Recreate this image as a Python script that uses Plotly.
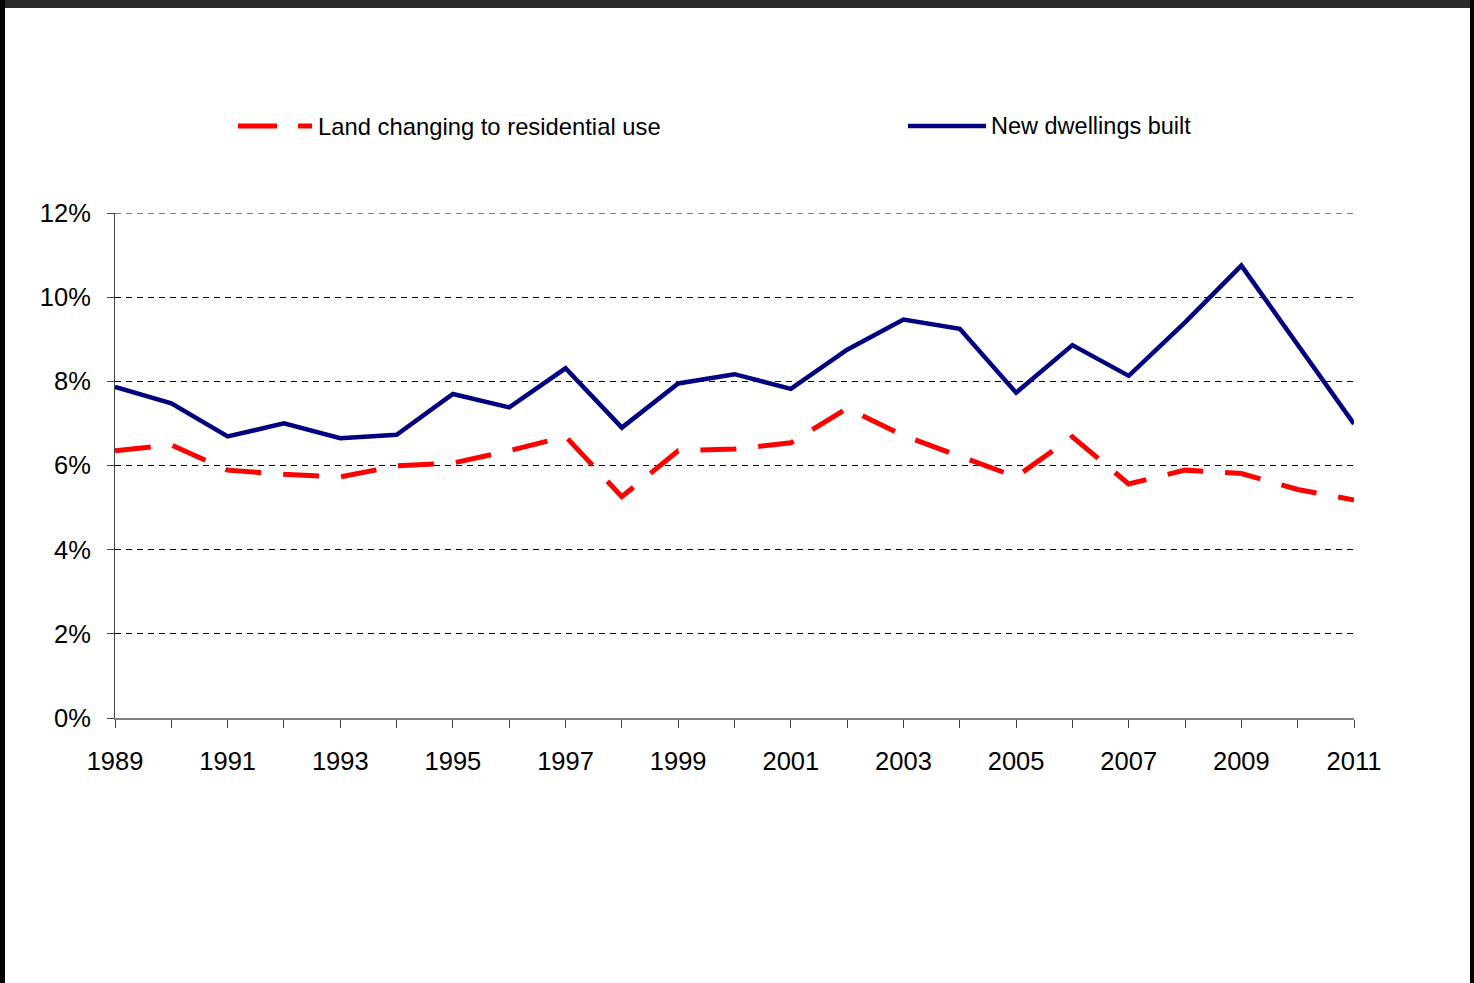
import plotly.graph_objects as go

years = list(range(1989, 2012))
land_residential = [6.35, 6.49, 5.89, 5.79, 5.73, 5.99, 6.06, 6.35, 6.69, 5.26, 6.35, 6.39,
                    6.54, 7.36, 6.71, 6.23, 5.73, 6.68, 5.56, 5.89, 5.81, 5.43, 5.18]
new_dwellings = [7.87, 7.48, 6.69, 7.00, 6.65, 6.73, 7.70, 7.38, 8.31, 6.90, 7.95, 8.17,
                 7.82, 8.75, 9.47, 9.25, 7.73, 8.86, 8.13, 9.40, 10.75, 8.86, 6.99]
y_ticks = [0, 2, 4, 6, 8, 10, 12]
x_labels = [str(y) if (y - 1989) % 2 == 0 else "" for y in years]

W, H = 1474, 983
L, R, T, B = 115, 1354, 213, 718  # plot area in pixels


def px(x):
    return (x - L) / (R - L)


def py(y):
    return (B - y) / (B - T)


RED = "#FF0000"
NAVY = "#000080"
FONT = "Liberation Sans, Arial, sans-serif"

fig = go.Figure()
fig.add_trace(go.Scatter(
    x=years, y=[v / 100 for v in land_residential], mode="lines",
    name="Land changing to residential use",
    line=dict(color=RED, width=5, dash="36px,22px"), cliponaxis=False))
fig.add_trace(go.Scatter(
    x=years, y=[v / 100 for v in new_dwellings], mode="lines",
    name="New dwellings built",
    line=dict(color=NAVY, width=4.5), cliponaxis=False))

shapes = []
# top gridline (at the range edge)
shapes.append(dict(type="line", xref="paper", yref="y", x0=0, x1=1, y0=max(y_ticks) / 100, y1=max(y_ticks) / 100,
                   line=dict(color="#000000", width=1, dash="6px,5px"), layer="below"))
# frame
shapes.append(dict(type="rect", xref="paper", yref="paper", x0=px(0), x1=px(W), y0=py(0), y1=py(8),
                   fillcolor="#2a2a2a", line=dict(width=0), layer="above"))
shapes.append(dict(type="rect", xref="paper", yref="paper", x0=px(0), x1=px(5), y0=py(0), y1=py(H),
                   fillcolor="#000000", line=dict(width=0), layer="above"))
shapes.append(dict(type="rect", xref="paper", yref="paper", x0=px(1470), x1=px(W), y0=py(0), y1=py(H),
                   fillcolor="#000000", line=dict(width=0), layer="above"))
# legend samples
shapes.append(dict(type="line", xref="paper", yref="paper", x0=px(238), x1=px(277), y0=py(126), y1=py(126),
                   line=dict(color=RED, width=5)))
shapes.append(dict(type="line", xref="paper", yref="paper", x0=px(298), x1=px(312), y0=py(126), y1=py(126),
                   line=dict(color=RED, width=5)))
shapes.append(dict(type="line", xref="paper", yref="paper", x0=px(908), x1=px(986), y0=py(126), y1=py(126),
                   line=dict(color=NAVY, width=4.5)))

annotations = [
    dict(x=px(316), y=py(126), xref="paper", yref="paper", text="Land changing to residential use",
         showarrow=False, xanchor="left", yanchor="middle", font=dict(size=23.8, color="black", family=FONT)),
    dict(x=px(989), y=py(126), xref="paper", yref="paper", text="New dwellings built",
         showarrow=False, xanchor="left", yanchor="middle", font=dict(size=23.5, color="black", family=FONT)),
]

fig.update_layout(
    width=W, height=H,
    margin=dict(l=L, r=W - R, t=T, b=H - B, pad=0),
    paper_bgcolor="white", plot_bgcolor="white",
    showlegend=False,
    font=dict(family=FONT, size=25, color="black"),
    shapes=shapes, annotations=annotations,
    xaxis=dict(range=[1989, 2011], tickvals=years, ticktext=x_labels,
               showgrid=False, zeroline=False, showline=True, linecolor="#808080", linewidth=1.5,
               ticks="outside", ticklen=8, tickcolor="#404040", tickwidth=1,
               ticklabelstandoff=12, tickfont=dict(size=25.5, family=FONT)),
    yaxis=dict(range=[0, 0.12], tickvals=[v / 100 for v in y_ticks], tickformat=".0%",
               showgrid=True, gridcolor="#000000", gridwidth=1, griddash="6px,5px",
               zeroline=False, showline=True, linecolor="#404040", linewidth=1,
               ticks="outside", ticklen=7, tickcolor="#404040", tickwidth=1,
               ticklabelstandoff=11, tickfont=dict(size=25.5, family=FONT)),
)

fig.write_html("out.html")
